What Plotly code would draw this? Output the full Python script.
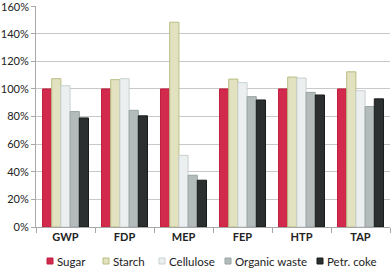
import plotly.graph_objects as go

categories = ["GWP", "FDP", "MEP", "FEP", "HTP", "TAP"]
sugar = [100, 100, 100, 100, 100, 100]
starch = [107.4, 106.7, 148.3, 107.1, 108.6, 112.4]
cellulose = [102.3, 107.4, 51.9, 104.5, 107.9, 98.7]
organic_waste = [83.6, 84.5, 37.5, 94.4, 97.5, 87.2]
petr_coke = [79.0, 80.5, 33.9, 92.0, 95.6, 92.8]
y_ticks = [0, 20, 40, 60, 80, 100, 120, 140, 160]

series_names = ["Sugar", "Starch", "Cellulose", "Organic waste", "Petr. coke"]
series_values = [sugar, starch, cellulose, organic_waste, petr_coke]
fills = ["#D12A4C", "#E2E2C0", "#ECEFEF", "#B3BBBB", "#2B2F2F"]
borders = ["#C0203F", "#B9BD80", "#C9D1D1", "#98A3A3", "#1A1D1D"]

W, H = 392, 268
L, T, B = 36, 6, 41
PW, PH = W - L - 2, H - T - B
fig = go.Figure()
for name, vals, fill, line in zip(series_names, series_values, fills, borders):
    fig.add_trace(go.Bar(
        x=categories, y=vals, name=name,
        marker=dict(color=fill, line=dict(color=line, width=1)),
        showlegend=False,
    ))

# manual legend (swatch + label), positioned in pixels
legend_px = [47, 103, 159, 225, 317]
legend_y = 261
shapes = []
annotations = []
for xp, name, fill, line in zip(legend_px, series_names, fills, borders):
    shapes.append(dict(type="rect", xref="paper", yref="paper",
                       x0=(xp - L) / PW, x1=(xp + 6 - L) / PW,
                       y0=(H - B - (legend_y + 3)) / PH, y1=(H - B - (legend_y - 3)) / PH,
                       fillcolor=fill, line=dict(color=line, width=1)))
    annotations.append(dict(text=name, xref="paper", yref="paper",
                            x=(xp + 8 - L) / PW, y=(H - B - legend_y) / PH,
                            xanchor="left", yanchor="middle", showarrow=False,
                            font=dict(size=11.5, color="#222")))

# top tick label (plotly hides the label sitting on the upper range edge)
top = y_ticks[-1]
annotations.append(dict(text=f"{top}%", xref="paper", yref="y", x=0, y=top,
                        xanchor="right", yanchor="middle", xshift=-5, showarrow=False,
                        font=dict(size=11, color="#222")))
tick_text = [f"{t}%" if t != top else "" for t in y_ticks]

fig.update_layout(
    width=W, height=H,
    margin=dict(l=L, r=2, t=T, b=B, autoexpand=False),
    paper_bgcolor="white", plot_bgcolor="white",
    barmode="group", bargap=0.22, bargroupgap=0.0,
    font=dict(family="Lato, Open Sans, sans-serif", size=11, color="#222"),
    shapes=shapes, annotations=annotations,
    xaxis=dict(showline=True, linecolor="#A8A8A8", ticks="outside", tickson="boundaries",
               ticklen=5, tickcolor="#A8A8A8",
               tickfont=dict(size=11, family="Lato, Open Sans, sans-serif", weight="bold")),
    yaxis=dict(range=[0, 160.05], tickvals=y_ticks, ticktext=tick_text,
               showgrid=True, gridcolor="#C8C8C8", gridwidth=1, showline=True,
               linecolor="#A8A8A8", ticks="outside", ticklen=4, tickcolor="#A8A8A8",
               zeroline=False, tickfont=dict(size=11)),
)

fig.write_html("out.html", config={"displayModeBar": False},
               post_script="document.body.style.margin='0px';")
